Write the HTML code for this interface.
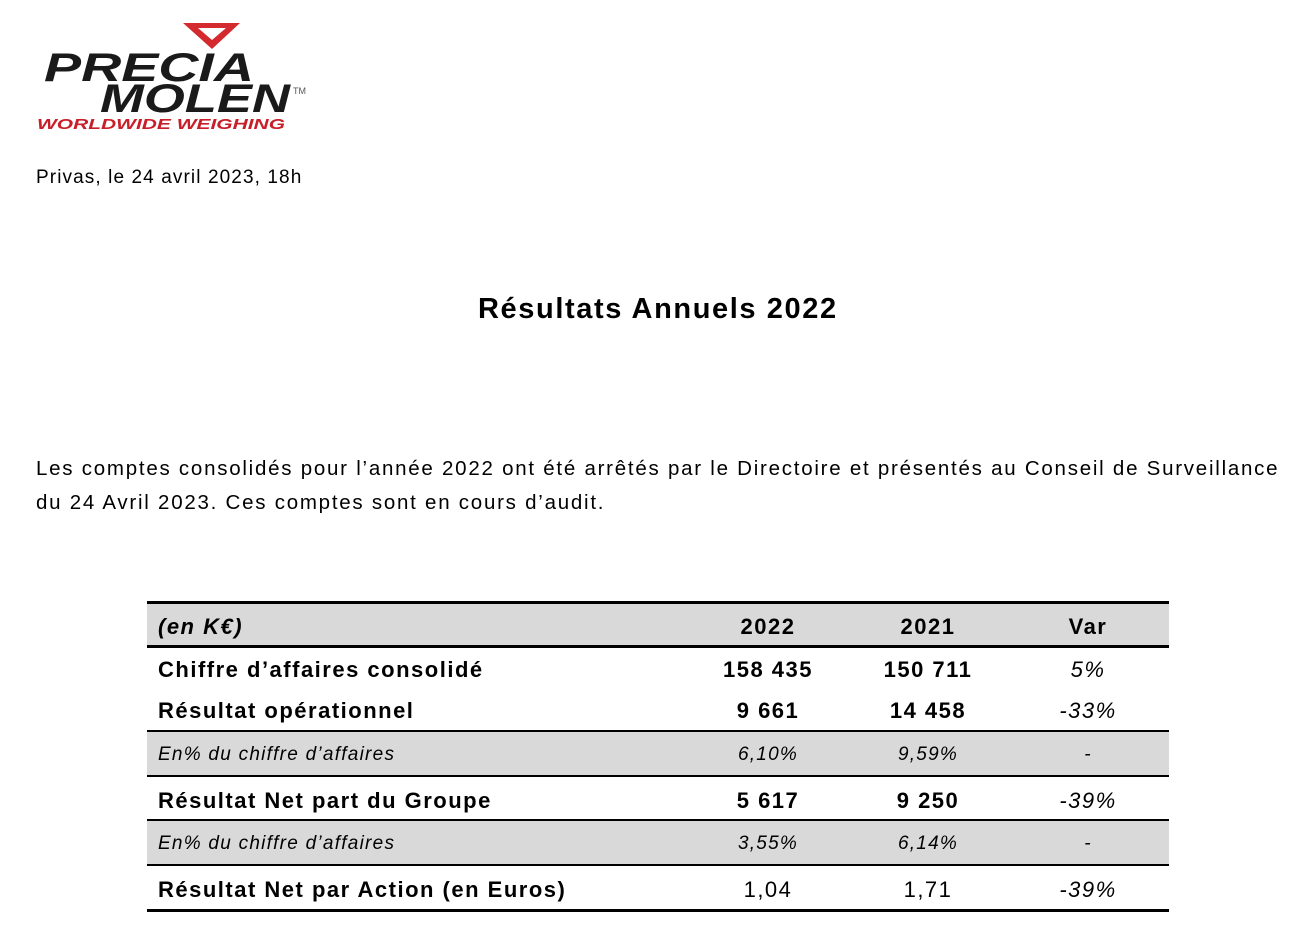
<!DOCTYPE html>
<html><head><meta charset="utf-8"><style>
body{margin:0;width:1312px;height:934px;background:#fff;position:relative;font-family:"Liberation Sans",Arial,sans-serif;color:#000;overflow:hidden}
.a{position:absolute;white-space:nowrap}
.line{position:absolute;left:147px;width:1022px;background:#000}
.gray{position:absolute;left:147px;width:1022px;background:#d9d9d9}
.b{font-weight:bold}
.i{font-style:italic}
.c{text-align:center;width:160px}
.t{letter-spacing:1.5px}
.s{letter-spacing:1.25px}
</style></head><body>
<svg class="a" style="left:30px;top:15px" width="300" height="125">
<polygon points="153,8 210,8 182,34" fill="#d42a2f"/>
<polygon points="168,13 196,13 182,25" fill="#fff"/>
<text x="14" y="66" font-family="Liberation Sans" font-weight="bold" font-style="italic" font-size="40" textLength="210" lengthAdjust="spacingAndGlyphs" fill="#1a1a1a">PRECIA</text>
<text x="70" y="97" font-family="Liberation Sans" font-weight="bold" font-style="italic" font-size="40" textLength="190" lengthAdjust="spacingAndGlyphs" fill="#1a1a1a">MOLEN</text>
<text x="263" y="79" font-family="Liberation Sans" font-size="9" fill="#555">TM</text>
<text x="7" y="114" font-family="Liberation Sans" font-weight="bold" font-style="italic" font-size="15" textLength="248" lengthAdjust="spacingAndGlyphs" fill="#c8202a">WORLDWIDE WEIGHING</text>
</svg>
<div class="a" style="left:36px;top:167px;font-size:19px;letter-spacing:1.1px">Privas, le 24 avril 2023, 18h</div>
<div class="a b" style="left:478px;top:293px;font-size:29px;letter-spacing:1.6px">Résultats Annuels 2022</div>
<div class="a" style="left:36px;top:452px;font-size:20.5px;line-height:34px;letter-spacing:1.75px">Les comptes consolidés pour l’année 2022 ont été arrêtés par le Directoire et présentés au Conseil de Surveillance<br>du 24 Avril 2023. Ces comptes sont en cours d’audit.</div>

<div class="gray" style="top:604px;height:42px"></div>
<div class="gray" style="top:732px;height:44px"></div>
<div class="gray" style="top:821px;height:44px"></div>
<div class="line" style="top:601px;height:3px"></div>
<div class="line" style="top:645px;height:3px"></div>
<div class="line" style="top:730px;height:2px"></div>
<div class="line" style="top:775px;height:2px"></div>
<div class="line" style="top:819px;height:2px"></div>
<div class="line" style="top:864px;height:2px"></div>
<div class="line" style="top:909px;height:3px"></div>

<div class="a b i t" style="left:158px;top:614px;font-size:22px">(en K€)</div>
<div class="a b c t" style="left:688px;top:614px;font-size:22px">2022</div>
<div class="a b c t" style="left:848px;top:614px;font-size:22px">2021</div>
<div class="a b c t" style="left:1008px;top:614px;font-size:22px">Var</div>

<div class="a b t" style="left:158px;top:657px;font-size:22px">Chiffre d’affaires consolidé</div>
<div class="a b c t" style="left:688px;top:657px;font-size:22px">158 435</div>
<div class="a b c t" style="left:848px;top:657px;font-size:22px">150 711</div>
<div class="a i c t" style="left:1008px;top:657px;font-size:22px">5%</div>

<div class="a b t" style="left:158px;top:698px;font-size:22px">Résultat opérationnel</div>
<div class="a b c t" style="left:688px;top:698px;font-size:22px">9 661</div>
<div class="a b c t" style="left:848px;top:698px;font-size:22px">14 458</div>
<div class="a i c t" style="left:1008px;top:698px;font-size:22px">-33%</div>

<div class="a i s" style="left:158px;top:744px;font-size:19px">En% du chiffre d’affaires</div>
<div class="a i c s" style="left:688px;top:744px;font-size:19px">6,10%</div>
<div class="a i c s" style="left:848px;top:744px;font-size:19px">9,59%</div>
<div class="a i c s" style="left:1008px;top:744px;font-size:19px">-</div>

<div class="a b t" style="left:158px;top:788px;font-size:22px">Résultat Net part du Groupe</div>
<div class="a b c t" style="left:688px;top:788px;font-size:22px">5 617</div>
<div class="a b c t" style="left:848px;top:788px;font-size:22px">9 250</div>
<div class="a i c t" style="left:1008px;top:788px;font-size:22px">-39%</div>

<div class="a i s" style="left:158px;top:833px;font-size:19px">En% du chiffre d’affaires</div>
<div class="a i c s" style="left:688px;top:833px;font-size:19px">3,55%</div>
<div class="a i c s" style="left:848px;top:833px;font-size:19px">6,14%</div>
<div class="a i c s" style="left:1008px;top:833px;font-size:19px">-</div>

<div class="a b t" style="left:158px;top:877px;font-size:22px">Résultat Net par Action (en Euros)</div>
<div class="a c t" style="left:688px;top:877px;font-size:22px">1,04</div>
<div class="a c t" style="left:848px;top:877px;font-size:22px">1,71</div>
<div class="a i c t" style="left:1008px;top:877px;font-size:22px">-39%</div>
</body></html>
